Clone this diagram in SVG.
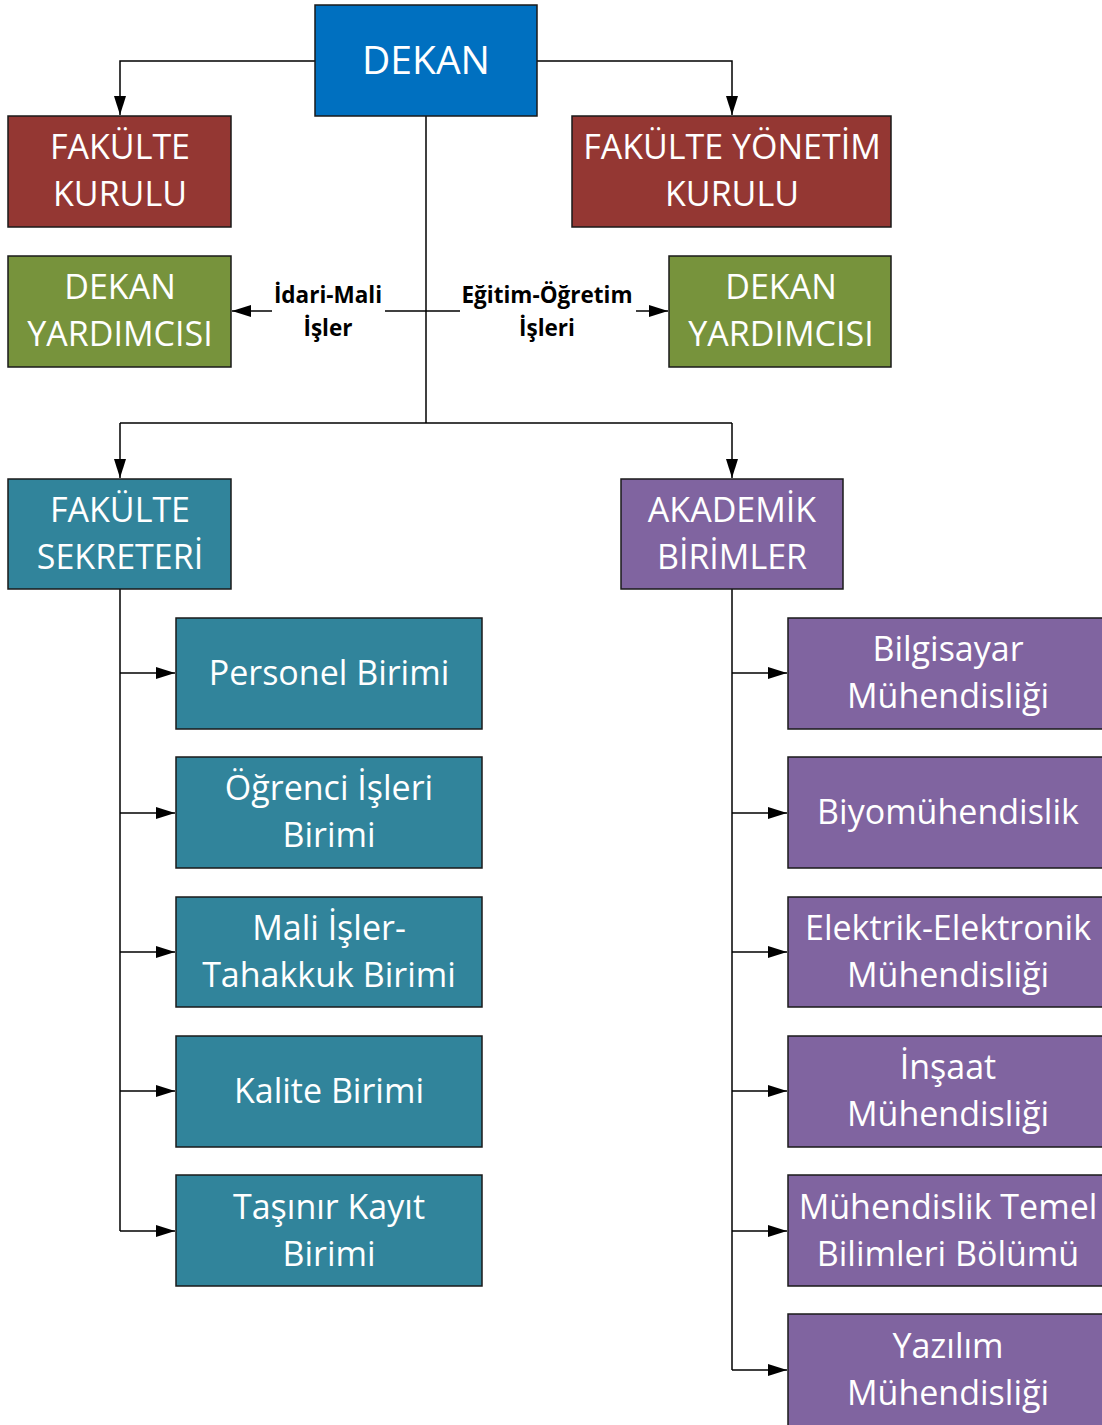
<svg xmlns="http://www.w3.org/2000/svg" width="1102" height="1425" viewBox="0 0 1102 1425">
<style>
.n{stroke:#1a1a1a;stroke-width:1.5}
.t{font-family:"Open Sans","Liberation Sans",sans-serif;font-size:34px;fill:#fff;text-anchor:middle}
.big{font-size:39px}
.lb{font-family:"Open Sans","Liberation Sans",sans-serif;font-size:22.5px;font-weight:bold;fill:#000;text-anchor:middle}
.c{fill:none;stroke:#000;stroke-width:1.5}
.red{fill:#943733}.grn{fill:#77933c}.tea{fill:#31849b}.pur{fill:#8064a0}
</style>
<defs>
<marker id="a" markerUnits="userSpaceOnUse" markerWidth="20" markerHeight="14" refX="19" refY="7" orient="auto">
<path d="M0,1 L19,7 L0,13 Z" fill="#000"/>
</marker>
</defs>
<g id="connectors">
<path class="c" d="M315,61 H120 V115" marker-end="url(#a)"/>
<path class="c" d="M537,61 H732 V115" marker-end="url(#a)"/>
<path class="c" d="M426,116 V423"/>
<path class="c" d="M120,423 H732"/>
<path class="c" d="M120,423 V478" marker-end="url(#a)"/>
<path class="c" d="M732,423 V478" marker-end="url(#a)"/>
<path class="c" d="M385,311 H460"/>
<path class="c" d="M272,311 H232" marker-end="url(#a)"/>
<path class="c" d="M636,311 H668" marker-end="url(#a)"/>
<path class="c" d="M120,589 V1231"/>
<path class="c" d="M120,673 H175" marker-end="url(#a)"/>
<path class="c" d="M120,813 H175" marker-end="url(#a)"/>
<path class="c" d="M120,952 H175" marker-end="url(#a)"/>
<path class="c" d="M120,1091 H175" marker-end="url(#a)"/>
<path class="c" d="M120,1231 H175" marker-end="url(#a)"/>
<path class="c" d="M732,589 V1370"/>
<path class="c" d="M732,673 H787" marker-end="url(#a)"/>
<path class="c" d="M732,813 H787" marker-end="url(#a)"/>
<path class="c" d="M732,952 H787" marker-end="url(#a)"/>
<path class="c" d="M732,1091 H787" marker-end="url(#a)"/>
<path class="c" d="M732,1231 H787" marker-end="url(#a)"/>
<path class="c" d="M732,1370 H787" marker-end="url(#a)"/>
<text class="lb" x="328" y="303">İdari-Mali</text>
<text class="lb" x="328" y="336">İşler</text>
<text class="lb" x="547" y="303">Eğitim-Öğretim</text>
<text class="lb" x="547" y="336">İşleri</text>
</g>
<g id="dekan"><rect class="n" x="315" y="5" width="222" height="111" fill="#0070c0"/><text class="t big" x="426" y="74">DEKAN</text></g>
<g id="fakulte-kurulu"><rect class="n red" x="8" y="116" width="223" height="111"/><text class="t" x="120" y="159">FAKÜLTE</text><text class="t" x="120" y="206">KURULU</text></g>
<g id="fakulte-yonetim-kurulu"><rect class="n red" x="572" y="116" width="319" height="111"/><text class="t" x="732" y="159">FAKÜLTE YÖNETİM</text><text class="t" x="732" y="206">KURULU</text></g>
<g id="dekan-yard-1"><rect class="n grn" x="8" y="256" width="223" height="111"/><text class="t" x="120" y="299">DEKAN</text><text class="t" x="120" y="346">YARDIMCISI</text></g>
<g id="dekan-yard-2"><rect class="n grn" x="669" y="256" width="222" height="111"/><text class="t" x="781" y="299">DEKAN</text><text class="t" x="781" y="346">YARDIMCISI</text></g>
<g id="fakulte-sekreteri"><rect class="n tea" x="8" y="479" width="223" height="110"/><text class="t" x="120" y="522">FAKÜLTE</text><text class="t" x="120" y="569">SEKRETERİ</text></g>
<g id="akademik-birimler"><rect class="n pur" x="621" y="479" width="222" height="110"/><text class="t" x="732" y="522">AKADEMİK</text><text class="t" x="732" y="569">BİRİMLER</text></g>
<g id="personel"><rect class="n tea" x="176" y="618" width="306" height="111"/><text class="t" x="329" y="685">Personel Birimi</text></g>
<g id="ogrenci"><rect class="n tea" x="176" y="757" width="306" height="111"/><text class="t" x="329" y="800">Öğrenci İşleri</text><text class="t" x="329" y="847">Birimi</text></g>
<g id="mali"><rect class="n tea" x="176" y="897" width="306" height="110"/><text class="t" x="329" y="940">Mali İşler-</text><text class="t" x="329" y="987">Tahakkuk Birimi</text></g>
<g id="kalite"><rect class="n tea" x="176" y="1036" width="306" height="111"/><text class="t" x="329" y="1103">Kalite Birimi</text></g>
<g id="tasinir"><rect class="n tea" x="176" y="1175" width="306" height="111"/><text class="t" x="329" y="1219">Taşınır Kayıt</text><text class="t" x="329" y="1266">Birimi</text></g>
<g id="bilgisayar"><rect class="n pur" x="788" y="618" width="322" height="111"/><text class="t" x="948" y="661">Bilgisayar</text><text class="t" x="948" y="708">Mühendisliği</text></g>
<g id="biyo"><rect class="n pur" x="788" y="757" width="322" height="111"/><text class="t" x="948" y="824">Biyomühendislik</text></g>
<g id="elektrik"><rect class="n pur" x="788" y="897" width="322" height="110"/><text class="t" x="948" y="940">Elektrik-Elektronik</text><text class="t" x="948" y="987">Mühendisliği</text></g>
<g id="insaat"><rect class="n pur" x="788" y="1036" width="322" height="111"/><text class="t" x="948" y="1079">İnşaat</text><text class="t" x="948" y="1126">Mühendisliği</text></g>
<g id="temel"><rect class="n pur" x="788" y="1175" width="322" height="111"/><text class="t" x="948" y="1219">Mühendislik Temel</text><text class="t" x="948" y="1266">Bilimleri Bölümü</text></g>
<g id="yazilim"><rect class="n pur" x="788" y="1314" width="322" height="120"/><text class="t" x="948" y="1358">Yazılım</text><text class="t" x="948" y="1405">Mühendisliği</text></g>
</svg>
